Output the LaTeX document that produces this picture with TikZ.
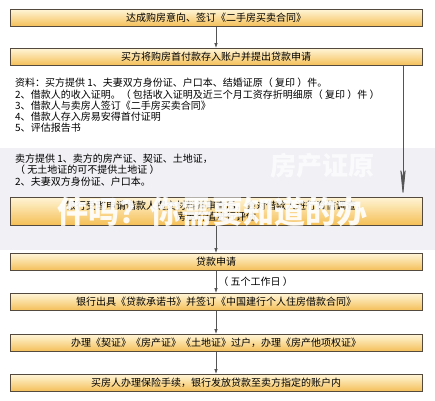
\documentclass[tikz,border=0pt]{standalone}
\usepackage{fontspec}
\setmainfont{Noto Sans CJK SC}
\usetikzlibrary{arrows.meta}

\newlength{\du}
\setlength{\du}{1pt}

\definecolor{boxline}{rgb}{0.330000, 0.290000, 0.240000}
\definecolor{boxtop}{rgb}{1.000000, 0.960000, 0.840000}
\definecolor{boxbottom}{rgb}{0.960000, 0.750000, 0.340000}
\definecolor{flowline}{rgb}{0.330000, 0.330000, 0.330000}
\definecolor{bandcolor}{rgb}{0.940000, 0.940000, 0.960000}

\tikzset{
  stepbox/.style={draw=boxline, line width=0.8\du, top color=boxtop, bottom color=boxbottom,
    minimum width=412\du, minimum height=17\du, inner sep=0pt,
    font=\fontsize{10}{11.3}\selectfont, align=center},
  doctext/.style={anchor=north west, inner sep=0pt, align=left,
    font=\fontsize{10}{11.3}\selectfont},
  flow/.style={draw=flowline, line width=0.8\du, -{Latex[length=5pt,width=3.5pt]}},
  bigflow/.style={draw=flowline, line width=0.8\du, -{Stealth[length=30pt,width=6pt,inset=10pt]}}
}

\begin{document}
\begin{tikzpicture}[x=1\du,y=-1\du]
\useasboundingbox (0,0) rectangle (435,400);
% watermark band
\fill[bandcolor] (0,148) rectangle (435,250);

\node[stepbox] (agree) at (216,18) {达成购房意向、签订《二手房买卖合同》};
\node[stepbox] (deposit) at (216,57) {买方将购房首付款存入账户并提出贷款申请};
\node[stepbox, minimum height=28\du] (review) at (216,211)
  {银行受理申请借款人提交材料并审查后，会对借款人进行资信调查，\\房屋价值进行评估};
\node[stepbox] (apply) at (216,262) {贷款申请};
\node[stepbox] (promise) at (216,302) {银行出具《贷款承诺书》并签订《中国建行个人住房借款合同》};
\node[stepbox] (transfer) at (216,343) {办理《契证》《房产证》《土地证》过户，办理《房产他项权证》};
\node[stepbox] (release) at (216,383) {买房人办理保险手续，银行发放贷款至卖方指定的账户内};

% materials
\node[doctext] (buyerdocs) at (15,78) {资料：买方提供 1、夫妻双方身份证、户口本、结婚证原（ 复印 ）件。\\
2、借款人的收入证明。（ 包括收入证明及近三个月工资存折明细原（ 复印 ）件 ）\\
3、借款人与卖房人签订《二手房买卖合同》\\
4、借款人存入房易安得首付证明\\
5、评估报告书};
\node[doctext] (sellerdocs) at (15,154) {卖方提供 1、卖方的房产证、契证、土地证，\\
（ 无土地证的可不提供土地证 ）\\
2、夫妻双方身份证、户口本。};

\coordinate (riser) at (403,0);
\draw[flow] (agree) -- (deposit);
\draw[bigflow] (deposit.south -| riser) -- (review.north -| riser);
\draw[flow] (review) -- (apply);
\draw[flow] (apply) -- node[right, inner sep=2\du, font=\fontsize{10}{11}\selectfont] (days) {（ 五个工作日 ）} (promise);
\draw[flow] (promise) -- (transfer);
\draw[flow] (transfer) -- (release);

% watermark text
\node[text=white, opacity=0.7, anchor=east, font=\fontsize{26}{28}\selectfont\bfseries] (wmtop) at (378,166) {房产证原};
\node[text=white, opacity=0.92, font=\fontsize{31}{33}\selectfont\bfseries] (wmtext) at (212,212) {件吗？你需要知道的办};
\end{tikzpicture}
\end{document}
